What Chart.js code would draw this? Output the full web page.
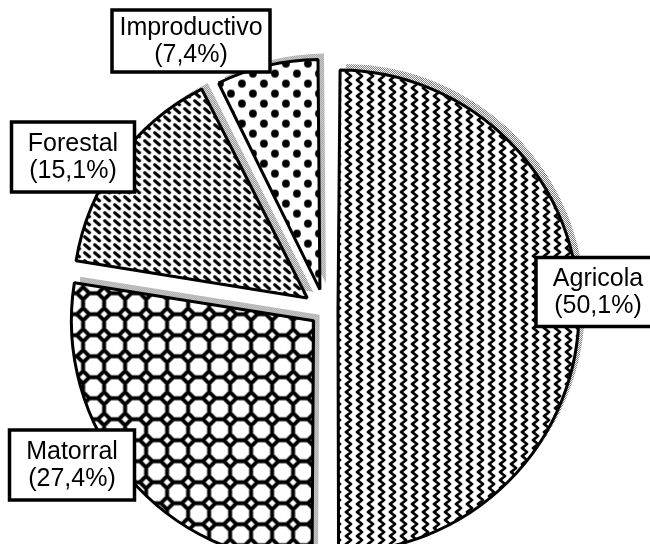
<!DOCTYPE html>
<html>
<head>
<meta charset="utf-8">
<script src="https://cdn.jsdelivr.net/npm/chart.js@4.4.0/dist/chart.umd.min.js"></script>
<style>
html, body { margin: 0; padding: 0; background: #fff; overflow: hidden; }
#wrap { position: absolute; left: 0; top: 0; width: 650px; height: 622px; }
</style>
</head>
<body>
<div id="wrap"><canvas id="pie" width="650" height="622"></canvas></div>
<script>
// datos
const categorias = ['Agricola', 'Matorral', 'Forestal', 'Improductivo'];
const porcentajes = [50.1, 27.4, 15.1, 7.4];

// separacion de cada sector (offset de Chart.js) y retoque del radio
const separacion = [52, 60, 88, 88];
const ajusteRadio = [0, 14, 2, -10];
// cuadros de texto: centro respecto al centro de la tarta, ancho y alto
const cuadroDx = [273, -253, -252, -134];
const cuadroDy = [-19, 154, -154, -270];
const cuadroAncho = [124, 125, 123, 158];
const cuadroAlto = [69, 70, 70, 62];

const ctx = document.getElementById('pie').getContext('2d');

function crearTrama(w, h, dibujar) {
    const c = document.createElement('canvas');
    c.width = w;
    c.height = h;
    const g = c.getContext('2d');
    g.fillStyle = '#fff';
    g.fillRect(0, 0, w, h);
    g.fillStyle = '#000';
    g.strokeStyle = '#000';
    dibujar(g);
    return ctx.createPattern(c, 'repeat');
}

function octogono(g, x, y, r) {
    g.beginPath();
    for (let i = 0; i < 8; i++) {
        const a = Math.PI / 8 + i * Math.PI / 4;
        g.lineTo(x + r * Math.cos(a), y + r * Math.sin(a));
    }
    g.closePath();
    g.fill();
}

// Agricola: ondas verticales
const tramaOndas = crearTrama(11, 8, g => {
    g.lineWidth = 2.8;
    g.lineJoin = 'round';
    g.beginPath();
    g.moveTo(8, -4); g.lineTo(3, 0); g.lineTo(8, 4); g.lineTo(3, 8); g.lineTo(8, 12);
    g.stroke();
});

// Matorral: octogonos blancos sobre negro
const tramaPanal = crearTrama(21, 21, g => {
    g.fillRect(0, 0, 21, 21);
    g.fillStyle = '#fff';
    [[0, 0], [21, 0], [0, 21], [21, 21]].forEach(p => octogono(g, p[0], p[1], 9.2));
    g.beginPath();
    g.moveTo(10.5, 7); g.lineTo(14, 10.5); g.lineTo(10.5, 14); g.lineTo(7, 10.5);
    g.closePath();
    g.fill();
});

// Forestal: rayitas inclinadas
const tramaRayas = crearTrama(10, 8, g => {
    g.lineWidth = 3.2;
    g.lineCap = 'round';
    g.beginPath();
    g.moveTo(2.5, 1.8); g.lineTo(7.2, 5.8);
    g.stroke();
});

// Improductivo: puntos al tresbolillo
const tramaPuntos = crearTrama(22, 20, g => {
    [[5, 5], [16, 15]].forEach(p => {
        g.beginPath();
        g.arc(p[0], p[1], 3.9, 0, Math.PI * 2);
        g.fill();
    });
});

// sombra punteada gris
const tramaSombra = crearTrama(2, 2, g => {
    g.fillStyle = '#777';
    g.fillRect(0, 0, 1, 1);
    g.fillRect(1, 1, 1, 1);
});

const radios = {
    id: 'radios',
    afterDatasetUpdate(chart) {
        chart.getDatasetMeta(0).data.forEach((arc, i) => {
            arc.outerRadius += ajusteRadio[i];
        });
    }
};

const sombra = {
    id: 'sombra',
    beforeDatasetsDraw(chart) {
        const c = chart.ctx;
        chart.getDatasetMeta(0).data.forEach(arc => {
            const o = arc.options;
            const bg = o.backgroundColor, bw = o.borderWidth;
            o.backgroundColor = tramaSombra;
            o.borderWidth = 0;
            c.save();
            c.translate(6, -6);
            arc.draw(c);
            c.restore();
            o.backgroundColor = bg;
            o.borderWidth = bw;
        });
    }
};

const cuadros = {
    id: 'cuadros',
    afterDatasetsDraw(chart) {
        const c = chart.ctx;
        const arc0 = chart.getDatasetMeta(0).data[0];
        c.save();
        c.font = '25px "Liberation Sans", Arial, sans-serif';
        c.textAlign = 'center';
        c.textBaseline = 'middle';
        categorias.forEach((nombre, i) => {
            const linea2 = '(' + porcentajes[i].toFixed(1).replace('.', ',') + '%)';
            const w = cuadroAncho[i];
            const h = cuadroAlto[i];
            const x = arc0.x + cuadroDx[i];
            const y = arc0.y + cuadroDy[i];
            c.fillStyle = '#fff';
            c.fillRect(x - w / 2, y - h / 2, w, h);
            c.lineWidth = 3.5;
            c.strokeStyle = '#000';
            c.strokeRect(x - w / 2, y - h / 2, w, h);
            c.fillStyle = '#000';
            c.fillText(nombre, x, y - 13);
            c.fillText(linea2, x, y + 14);
        });
        c.restore();
    }
};

new Chart(ctx, {
    type: 'pie',
    data: {
        labels: categorias,
        datasets: [{
            data: porcentajes,
            backgroundColor: [tramaOndas, tramaPanal, tramaRayas, tramaPuntos],
            borderColor: '#000',
            borderWidth: 3,
            offset: separacion
        }]
    },
    options: {
        responsive: false,
        animation: false,
        radius: 228,
        layout: { padding: 0 },
        plugins: {
            legend: { display: false },
            tooltip: { enabled: false }
        }
    },
    plugins: [radios, sombra, cuadros]
});
</script>
</body>
</html>
